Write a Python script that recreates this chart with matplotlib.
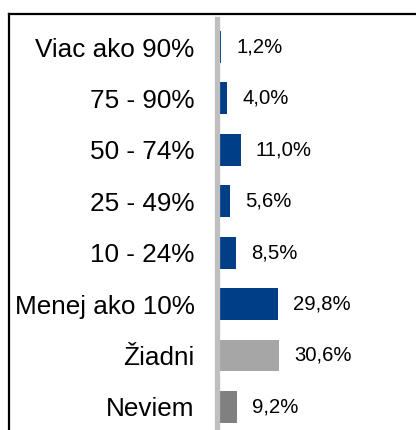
import matplotlib
matplotlib.use("Agg")
import matplotlib.pyplot as plt
from matplotlib.lines import Line2D

# --- Data ---
categories = ["Viac ako 90%", "75 - 90%", "50 - 74%", "25 - 49%",
              "10 - 24%", "Menej ako 10%", "Žiadni", "Neviem"]
values = [1.2, 4.0, 11.0, 5.6, 8.5, 29.8, 30.6, 9.2]
value_labels = ["1,2%", "4,0%", "11,0%", "5,6%", "8,5%", "29,8%", "30,6%", "9,2%"]
bar_colors = ["#003F87"] * 6 + ["#A6A6A6", "#808080"]

plt.rcParams['font.family'] = ['Liberation Sans', 'DejaVu Sans']

W, H = 416, 430
fig = plt.figure(figsize=(W / 100, H / 100), dpi=100)
fig.patch.set_facecolor("white")

ax = fig.add_axes([219 / W, 0, (W - 219) / W, (430 - 19) / H])
y = list(range(len(categories)))
ax.barh(y, values, height=0.62, color=bar_colors, zorder=2)

for yi, v, lab in zip(y, values, value_labels):
    ax.annotate(lab, xy=(v, yi), xytext=(11, 0), textcoords="offset points",
                va="center", ha="left", fontsize=14.6, color="black")

ax.set_ylim(7.45, -0.545)
ax.set_xlim(0, 100)
ax.set_yticks(y)
ax.set_yticklabels(categories)
ax.tick_params(axis="y", length=0, pad=16.5, labelsize=18.8)
ax.set_xticks([])

for s in ["top", "right", "bottom"]:
    ax.spines[s].set_visible(False)
ax.spines["left"].set_color("#BFBFBF")
ax.spines["left"].set_linewidth(3.8)
ax.spines["left"].set_position(("outward", 1.2))
ax.spines["left"].set_zorder(3)

# outer frame (top and left edges visible in the crop)
fig.add_artist(Line2D([9 / W, 1], [1 - 14 / H, 1 - 14 / H], color="black",
                      linewidth=1.6, transform=fig.transFigure))
fig.add_artist(Line2D([9 / W, 9 / W], [0, 1 - 14 / H], color="black",
                      linewidth=1.6, transform=fig.transFigure))

fig.savefig("out.png", dpi=100)
